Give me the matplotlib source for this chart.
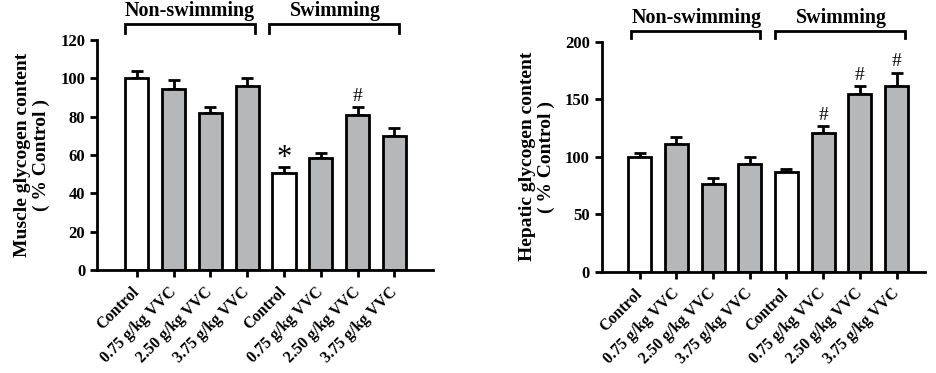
import matplotlib
matplotlib.use("Agg")
import matplotlib.pyplot as plt
import numpy as np

plt.rcParams['font.family'] = ['Liberation Serif', 'DejaVu Serif']
plt.rcParams['font.weight'] = 'bold'

categories = ["Control", "0.75 g/kg VVC", "2.50 g/kg VVC", "3.75 g/kg VVC",
              "Control", "0.75 g/kg VVC", "2.50 g/kg VVC", "3.75 g/kg VVC"]
groups = ["Non-swimming", "Swimming"]

muscle_values = [100, 94.3, 82, 96.2, 50.5, 58.3, 80.9, 69.9]
muscle_errors = [3.7, 4.8, 3.2, 4.1, 3.0, 2.6, 4.3, 4.0]
muscle_marks = ["", "", "", "", "*", "", "#", ""]

hepatic_values = [100, 110.8, 76.2, 93.6, 86.4, 120.3, 154.3, 161.5]
hepatic_errors = [3.5, 6.5, 5.0, 6.2, 2.6, 6.2, 7.0, 11.5]
hepatic_marks = ["", "", "", "", "", "#", "#", "#"]

fill_colors = ["white", "#b6b7b9", "#b6b7b9", "#b6b7b9",
               "white", "#b6b7b9", "#b6b7b9", "#b6b7b9"]

fig = plt.figure(figsize=(9.37, 3.73), dpi=100)
ax1 = fig.add_axes([0.1035, 0.276, 0.3586, 0.617])
ax2 = fig.add_axes([0.642, 0.2716, 0.345, 0.6166])


def draw(ax, values, errors, marks, ymax, yticks, ylabel, xlim,
         br_y, br_tip, lab_y, br_x, lab_x, mark_gap, star_gap):
    x = np.arange(len(values))
    ax.bar(x, values, width=0.63, color=fill_colors, edgecolor="black",
           linewidth=2, zorder=2)
    ax.errorbar(x, values, yerr=[np.zeros(len(errors)), errors], fmt="none",
                ecolor="black", elinewidth=2, capsize=4, capthick=2, zorder=1)
    for xi, v, e, m in zip(x, values, errors, marks):
        if m == "*":
            ax.text(xi, v + e + star_gap, m, ha="center", va="center",
                    fontsize=22, fontweight="normal")
        elif m:
            ax.text(xi, v + e + mark_gap, m, ha="center", va="center",
                    fontsize=14, fontweight="normal")
    ax.set_xlim(*xlim)
    ax.set_ylim(0, ymax)
    ax.set_yticks(yticks)
    ax.set_xticks(x)
    ax.set_xticklabels(categories, rotation=45, ha="right", va="center",
                       rotation_mode="anchor", fontsize=11.5,
                       fontweight="bold")
    ax.tick_params(axis="y", labelsize=12, width=2, length=5, direction="out")
    ax.tick_params(axis="x", width=2, length=5, direction="out", pad=9)
    for lab in ax.get_yticklabels():
        lab.set_fontweight("bold")
    for s in ["top", "right"]:
        ax.spines[s].set_visible(False)
    for s in ["left", "bottom"]:
        ax.spines[s].set_linewidth(2)
    ax.set_ylabel(ylabel, fontsize=14, fontweight="bold", linespacing=1.15,
                  labelpad=7)
    for (x0, x1), lx, g in zip(br_x, lab_x, groups):
        ax.plot([x0, x0, x1, x1], [br_tip, br_y, br_y, br_tip], color="black",
                linewidth=2, clip_on=False, solid_joinstyle="miter")
        ax.text(lx, lab_y, g, ha="center", va="center", fontsize=14.4,
                fontweight="bold", clip_on=False)


draw(ax1, muscle_values, muscle_errors, muscle_marks, 120,
     [0, 20, 40, 60, 80, 100, 120],
     "Muscle glycogen content\n( % Control )", (-1.08, 8.05),
     128.3, 123.6, 135.0, [(-0.32, 3.21), (3.6, 7.13)], [1.45, 5.39], 5.5, 4.5)

draw(ax2, hepatic_values, hepatic_errors, hepatic_marks, 200,
     [0, 50, 100, 150, 200],
     "Hepatic glycogen content\n( % Control )", (-1.04, 7.77),
     209.3, 203.2, 221, [(-0.23, 3.27), (3.68, 7.22)], [1.55, 5.5], 9.5, 8)

fig.savefig("out.png", dpi=100)
